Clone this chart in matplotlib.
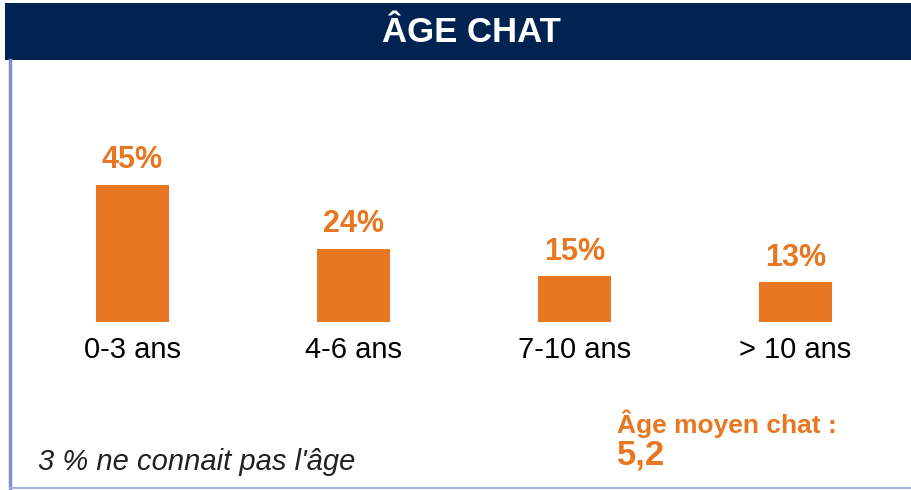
import matplotlib.pyplot as plt
from matplotlib.patches import Rectangle
from matplotlib.lines import Line2D

# data
categories = ["0-3 ans", "4-6 ans", "7-10 ans", "> 10 ans"]
values = [45, 24, 15, 13]
title = "ÂGE CHAT"
note = "3 % ne connait pas l'âge"
mean_label = "Âge moyen chat :"
mean_value = "5,2"

orange = "#E87722"
navy = "#002352"

plt.rcParams['font.family'] = ['Liberation Sans', 'DejaVu Sans']

W, H = 912, 490
fig = plt.figure(figsize=(W / 100, H / 100), dpi=100)

def fx(px):
    return px / W

def fy(py):
    return 1 - py / H

# title band
fig.patches.append(Rectangle((fx(5), fy(60)), fx(907), 57 / H, transform=fig.transFigure,
                             facecolor=navy, edgecolor="none", zorder=0))
fig.text(fx(471), fy(33), title, color="white", fontsize=25, fontweight="bold",
         ha="center", va="center")

# frame lines (left and bottom)
fig.lines.append(Line2D([fx(10), fx(10)], [fy(60), fy(488)], transform=fig.transFigure,
                        color="#7B8DD9", lw=2.5))
fig.lines.append(Line2D([fx(10), fx(912)], [fy(488), fy(488)], transform=fig.transFigure,
                        color="#A8B0E3", lw=1.5))

# bars
ax = fig.add_axes([fx(22), fy(322), fx(884), 222 / H])
x = range(len(categories))
bars = ax.bar(x, values, width=0.33, color=orange)
ax.set_xlim(-0.5, 3.5)
ax.set_ylim(0, 222 / 3.04)
for b, v in zip(bars, values):
    ax.annotate(f"{v}%", (b.get_x() + b.get_width() / 2, v), xytext=(0, 7),
                textcoords="offset points", ha="center", va="bottom",
                color=orange, fontsize=22, fontweight="bold")
ax.set_xticks(list(x))
ax.set_xticklabels(categories, fontsize=21)
ax.tick_params(axis="x", length=0, pad=10)
ax.set_yticks([])
for s in ax.spines.values():
    s.set_visible(False)
ax.patch.set_alpha(0)

# notes
fig.text(fx(38), fy(462), note, fontsize=21, style="italic", color="#222222",
         ha="left", va="center")
fig.text(fx(617), fy(424), mean_label, fontsize=19, fontweight="bold", color=orange,
         ha="left", va="center")
fig.text(fx(617), fy(455), mean_value, fontsize=25, fontweight="bold", color=orange,
         ha="left", va="center")

fig.savefig("out.png", dpi=100)
